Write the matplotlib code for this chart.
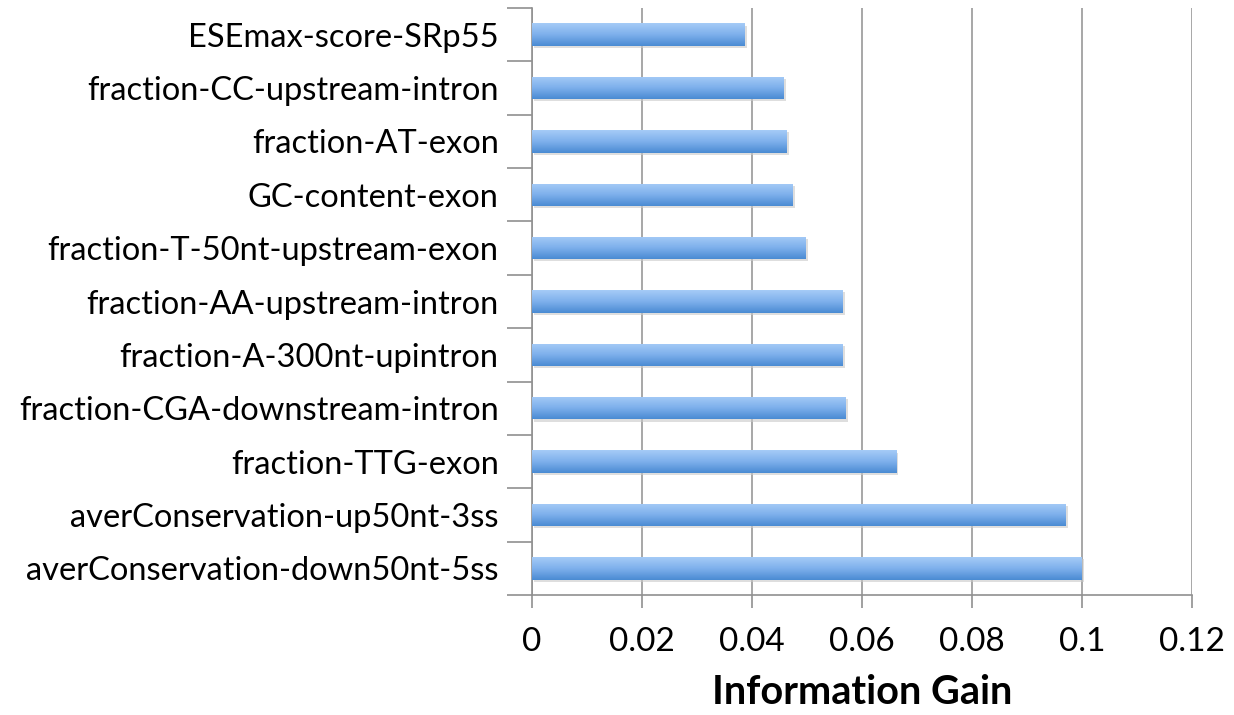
import numpy as np
import matplotlib.pyplot as plt
from matplotlib.colors import LinearSegmentedColormap

# features, bottom bar first
features = ['averConservation-down50nt-5ss', 'averConservation-up50nt-3ss',
            'fraction-TTG-exon', 'fraction-CGA-downstream-intron',
            'fraction-A-300nt-upintron', 'fraction-AA-upstream-intron',
            'fraction-T-50nt-upstream-exon', 'GC-content-exon',
            'fraction-AT-exon', 'fraction-CC-upstream-intron',
            'ESEmax-score-SRp55']
info_gain = [0.1, 0.097, 0.0662, 0.057, 0.0565, 0.0565,
             0.0497, 0.0474, 0.0463, 0.0458, 0.0387]
xticks = [0, 0.02, 0.04, 0.06, 0.08, 0.1, 0.12]
xticklabels = ['0', '0.02', '0.04', '0.06', '0.08', '0.1', '0.12']

plt.rcParams['font.family'] = ['Lato', 'DejaVu Sans']

fig = plt.figure(figsize=(12.34, 7.15), dpi=100)
ax = fig.add_axes([532/1234, 120/715, 660/1234, 587/715])

pos = np.arange(len(features))
h = 0.42
grad = LinearSegmentedColormap.from_list('bar', ['#4a8bd3', '#7eb0ec', '#a5cbf7'])
g = np.linspace(0, 1, 64).reshape(-1, 1)

# soft shadow
ax.barh(pos - 0.04, info_gain, height=h, left=0.0004, color='#c8c8c8',
        alpha=0.6, zorder=2, linewidth=0)
bars = ax.barh(pos, info_gain, height=h, color='#7eb0ec', zorder=3, linewidth=0)
for b, v, p in zip(bars, info_gain, pos):
    im = ax.imshow(g, cmap=grad, aspect='auto', origin='lower',
                   extent=[0, v, p - h/2, p + h/2], zorder=4)
    im.set_clip_path(b)

ax.set_xlim(0, 0.12)
ax.set_ylim(-0.5, len(features) - 0.5)
ax.set_xticks(xticks)
ax.set_xticklabels(xticklabels, fontsize=24)
ax.set_yticks(np.arange(len(features) + 1) - 0.5)
ax.set_yticklabels([])
ax.set_yticks(pos, minor=True)
ax.set_yticklabels(features, minor=True, fontsize=23.5)
ax.tick_params(axis='y', which='minor', length=0, pad=24)
ax.tick_params(axis='y', which='major', length=18, color='#909090', width=1.2)
ax.tick_params(axis='x', length=9, color='#909090', width=1.2, pad=14)

ax.grid(axis='x', color='#a0a0a0', linewidth=1.3, zorder=1)
ax.set_axisbelow(True)
for s in ['top', 'right']:
    ax.spines[s].set_visible(False)
for s in ['left', 'bottom']:
    ax.spines[s].set_color('#909090')
    ax.spines[s].set_linewidth(1.2)

ax.set_xlabel('Information Gain', fontsize=28.5, fontweight='bold', labelpad=12)

fig.savefig('out.png', dpi=100)
